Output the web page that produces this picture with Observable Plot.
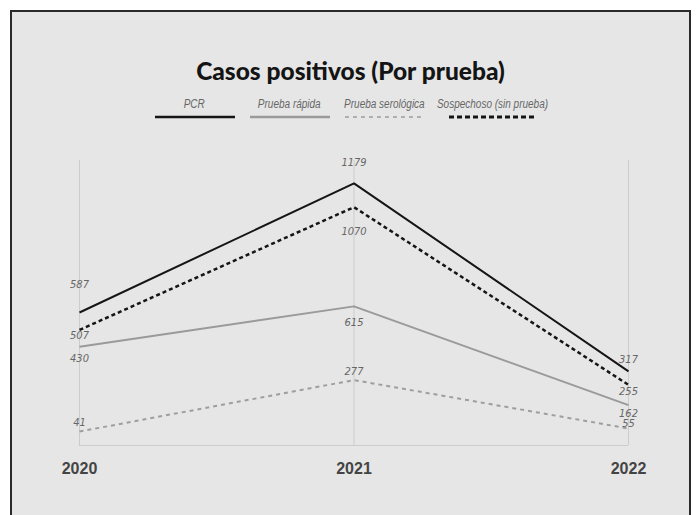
<!DOCTYPE html>
<html>
<head>
<meta charset="utf-8">
<script src="https://cdn.jsdelivr.net/npm/d3@7"></script>
<script src="https://cdn.jsdelivr.net/npm/@observablehq/plot@0.6"></script>
<style>
  html, body { margin: 0; padding: 0; background: #ffffff; width: 699px; height: 515px; overflow: hidden; }
  #panel { position: absolute; left: 10px; top: 10px; width: 677px; height: 520px; background: #e6e6e6; border: 2px solid #2a2a2a; }
  #title { position: absolute; left: 10px; width: 681px; top: 56px; text-align: center; font-family: Lato, "Open Sans", sans-serif; font-weight: 900; font-size: 24.5px; color: #141414; }
  #legend { position: absolute; left: 10px; width: 681px; top: 96px; display: flex; justify-content: center; gap: 15px; }
  .item { display: flex; flex-direction: column; align-items: center; }
  .item span { display: block; font-family: "Liberation Sans", Arial, sans-serif; font-style: italic; font-size: 12.5px; color: #666; line-height: 16px; white-space: nowrap; transform: scaleX(0.8); transform-origin: center; }
  .item svg { display: block; margin-top: 3px; }
  #chart { position: absolute; left: 0; top: 0; }
  #chart g[aria-label="x-axis tick label"] text { font-weight: bold; }
</style>
</head>
<body>
<div id="panel"></div>
<div id="title">Casos positivos (Por prueba)</div>
<div id="legend"></div>
<div id="chart"></div>
<script>
// ---- data ----
const years = [2020, 2021, 2022];
const seriesNames = ["PCR", "Prueba rápida", "Prueba serológica", "Sospechoso (sin prueba)"];
const pcr = [587, 1179, 317];
const pruebaRapida = [430, 615, 162];
const pruebaSerologica = [41, 277, 55];
const sospechoso = [507, 1070, 255];

// ---- styles ----
const seriesValues = [pcr, pruebaRapida, pruebaSerologica, sospechoso];
const styles = [
  { stroke: "#151515", width: 2, dash: null, legendW: 80, itemW: 80 },
  { stroke: "#9a9a9a", width: 2, dash: null, legendW: 80, itemW: 80 },
  { stroke: "#9e9e9e", width: 2, dash: "4,4", legendW: 79, itemW: 79 },
  { stroke: "#151515", width: 2.5, dash: "4,3", legendW: 88, itemW: 108 }
];
// label vertical offsets (px) per series per year
const labelDy = [
  [-28, -21, -12],
  [12, 16, 8],
  [-9, -9, -5],
  [6, 24, 7]
];

const data = seriesNames.flatMap((s, i) => years.map((y, j) => ({ series: s, year: y, value: seriesValues[i][j], si: i, yj: j })));

// ---- legend ----
const legend = document.getElementById("legend");
seriesNames.forEach((s, i) => {
  const st = styles[i];
  const item = document.createElement("div");
  item.className = "item";
  item.style.width = st.itemW + "px";
  const sp = document.createElement("span");
  sp.textContent = s;
  item.appendChild(sp);
  const svg = d3.create("svg").attr("width", st.legendW).attr("height", 4);
  svg.append("line").attr("x1", 0).attr("x2", st.legendW).attr("y1", 2).attr("y2", 2)
    .attr("stroke", st.stroke).attr("stroke-width", i === 2 ? 1.6 : st.width + 0.3)
    .attr("stroke-dasharray", st.dash ? (i === 3 ? "5,3" : "4,4") : null);
  item.appendChild(svg.node());
  legend.appendChild(item);
});

// ---- chart ----
const yDomain = [-23, 1284];
const marks = [
  Plot.ruleX(years, { stroke: "#cccccc", strokeWidth: 1 }),
  Plot.ruleY([yDomain[0]], { stroke: "#cccccc", strokeWidth: 1.2 }),
  ...seriesNames.map((s, i) => Plot.line(data.filter(d => d.si === i), {
    x: "year", y: "value", stroke: styles[i].stroke, strokeWidth: styles[i].width,
    strokeDasharray: styles[i].dash, strokeLinecap: "butt", strokeLinejoin: "miter"
  })),
  ...data.map(d => Plot.text([d], {
    x: "year", y: "value", text: r => String(r.value), dy: labelDy[d.si][d.yj],
    fill: "#666", fontSize: 11, fontStyle: "italic",
    fontFamily: "DejaVu Sans Condensed, Liberation Sans, sans-serif"
  })),
  Plot.axisX({ ticks: years, tickFormat: d => String(d), tickSize: 0, tickPadding: 17,
    fontSize: 16, fontWeight: "bold", fill: "#444", label: null,
    fontFamily: "Liberation Sans, Arial, sans-serif" })
];

const plot = Plot.plot({
  width: 699,
  height: 515,
  marginLeft: 79,
  marginRight: 71,
  marginTop: 160,
  marginBottom: 70,
  x: { domain: [2020, 2022] },
  y: { domain: yDomain, axis: null },
  style: { background: "transparent", fontFamily: "Liberation Sans, Arial, sans-serif", overflow: "visible" },
  marks
});
document.getElementById("chart").appendChild(plot);
</script>
</body>
</html>
